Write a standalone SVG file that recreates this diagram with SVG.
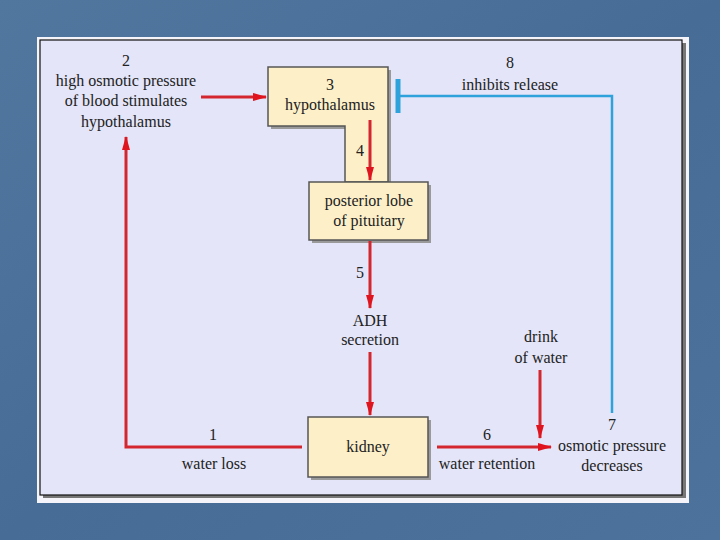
<svg xmlns="http://www.w3.org/2000/svg" width="720" height="540" viewBox="0 0 720 540">
<defs>
<linearGradient id="bg" x1="0" y1="0" x2="1" y2="1">
<stop offset="0" stop-color="#52779f"/>
<stop offset="0.5" stop-color="#476c96"/>
<stop offset="1" stop-color="#4d729b"/>
</linearGradient>
<marker id="ah" viewBox="0 0 14 10" refX="13" refY="5" markerWidth="14" markerHeight="10" markerUnits="userSpaceOnUse" orient="auto">
<path d="M0,1 L14,5 L0,9 Z" fill="#e0141e"/>
</marker>
</defs>
<style>
.t{font-family:"Liberation Serif","Times New Roman",serif;font-size:16px;fill:#222;text-anchor:middle}
.node{fill:#fdf0c9;stroke:#555;stroke-width:1.5}
.shadow{fill:#9a9a9a}
.red{stroke:#d3262f;stroke-width:3;fill:none}
.blue{stroke:#2ea2da;stroke-width:2.5;fill:none}
</style>
<rect width="720" height="540" fill="url(#bg)"/>
<rect x="37" y="37" width="652" height="466" fill="#f4f4fa"/>
<rect x="43" y="43" width="643" height="455" fill="#777"/>
<rect x="40" y="40" width="642" height="455" fill="#e4e5f8" stroke="#111" stroke-width="1.2"/>

<g id="hypothalamus">
<path class="shadow" d="M271,70 L391,70 L391,185 L348,185 L348,129 L271,129 Z"/>
<path class="node" d="M268,67 L388,67 L388,182 L345,182 L345,126 L268,126 Z"/>
<text class="t" x="330" y="90">3</text>
<text class="t" x="330" y="110">hypothalamus</text>
</g>
<g id="pituitary">
<rect class="shadow" x="312" y="185" width="119" height="58"/>
<rect class="node" x="309" y="182" width="119" height="58"/>
<text class="t" x="369" y="206">posterior lobe</text>
<text class="t" x="369" y="226">of pituitary</text>
</g>
<g id="kidney">
<rect class="shadow" x="311" y="420" width="120" height="60"/>
<rect class="node" x="308" y="417" width="120" height="60"/>
<text class="t" x="368" y="452">kidney</text>
</g>

<g id="connectors">
<line class="red" x1="201" y1="97" x2="266" y2="97" marker-end="url(#ah)"/>
<line class="red" x1="370" y1="120" x2="370" y2="180" marker-end="url(#ah)"/>
<line class="red" x1="370" y1="241" x2="370" y2="308" marker-end="url(#ah)"/>
<line class="red" x1="370" y1="352" x2="370" y2="415" marker-end="url(#ah)"/>
<polyline class="red" points="302,447 126,447 126,137" marker-end="url(#ah)"/>
<line class="red" x1="437" y1="447" x2="551" y2="447" marker-end="url(#ah)"/>
<line class="red" x1="540" y1="370" x2="540" y2="438" marker-end="url(#ah)"/>
<polyline class="blue" points="612,413 612,96 399,96"/>
<line stroke="#2ea2da" stroke-width="5" x1="398" y1="79" x2="398" y2="113"/>
</g>

<g id="labels">
<text class="t" x="126" y="66">2</text>
<text class="t" x="126" y="86">high osmotic pressure</text>
<text class="t" x="126" y="106">of blood stimulates</text>
<text class="t" x="126" y="127">hypothalamus</text>
<text class="t" x="360" y="156">4</text>
<text class="t" x="360" y="278">5</text>
<text class="t" x="370" y="326">ADH</text>
<text class="t" x="370" y="345">secretion</text>
<text class="t" x="213" y="440">1</text>
<text class="t" x="214" y="469">water loss</text>
<text class="t" x="487" y="440">6</text>
<text class="t" x="487" y="469">water retention</text>
<text class="t" x="541" y="342">drink</text>
<text class="t" x="541" y="363">of water</text>
<text class="t" x="612" y="430">7</text>
<text class="t" x="612" y="451">osmotic pressure</text>
<text class="t" x="612" y="471">decreases</text>
<text class="t" x="510" y="68">8</text>
<text class="t" x="510" y="90">inhibits release</text>
</g>
</svg>
